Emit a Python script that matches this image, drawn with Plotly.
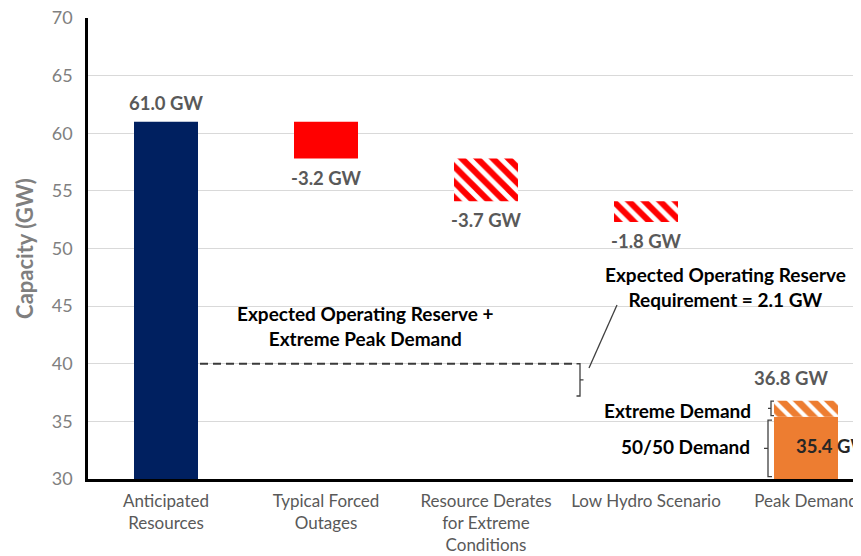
import plotly.graph_objects as go

# ---------------- data ----------------
categories = ["Anticipated<br>Resources", "Typical Forced<br>Outages",
              "Resource Derates<br>for Extreme<br>Conditions", "Low Hydro Scenario",
              "Peak Demand"]
anticipated = 61.0
derates = [-3.2, -3.7, -1.8]          # typical outages, extreme derates, low hydro
demand_5050 = 35.4
demand_extreme = 36.8
reserve_level = 40.0                  # reserve + extreme peak demand line
reserve_req = 2.1
y_ticks = [30, 35, 40, 45, 50, 55, 60, 65, 70]

# ---------------- layout constants (page pixels, body margin 8px) ----------------
OFF = 8
W, H = 861 - OFF, 556 - OFF
PL, PR, PT, PB = 88, 856, 18, 479        # plot area in page pixels
ML, MR, MT, MB = PL - OFF, W - (PR - OFF), PT - OFF, H - (PB - OFF)
PW = PR - PL
PH = PB - PT
CAT_PX = 160.0
X0 = -(166 - PL) / CAT_PX
X1 = X0 + PW / CAT_PX

def xi(px):           # page pixel -> category index coordinate
    return (px - 166) / CAT_PX

def xp(px):           # page pixel -> paper
    return (px - PL) / PW

FONT = "Lato, Calibri, Carlito, sans-serif"
NAVY = "#002060"
RED = "#ff0000"
ORANGE = "#ed7d31"
LBL = "#595959"
VAL_SIZE = 18.5
NOTE_SIZE = 19

levels = [anticipated]
for d in derates:
    levels.append(levels[-1] + d)

fig = go.Figure()
BW = 0.4

fig.add_trace(go.Bar(x=[categories[0]], y=[anticipated], base=[0], width=BW,
                     marker=dict(color=NAVY, line=dict(width=0)), showlegend=False))
fig.add_trace(go.Bar(x=[categories[1]], y=[-derates[0]], base=[levels[1]], width=BW,
                     marker=dict(color=RED, line=dict(width=0)), showlegend=False))
fig.add_trace(go.Bar(x=categories[2:4], y=[-d for d in derates[1:]], base=levels[2:4], width=BW,
                     marker=dict(color="white", line=dict(width=0),
                                 pattern=dict(shape="\\", fgcolor=RED, bgcolor="white",
                                              fgopacity=1, size=11, solidity=0.55,
                                              fillmode="overlay")),
                     showlegend=False))
fig.add_trace(go.Bar(x=[categories[4]], y=[demand_5050], base=[0], width=BW,
                     marker=dict(color=ORANGE, line=dict(width=0)), showlegend=False))
fig.add_trace(go.Bar(x=[categories[4]], y=[demand_extreme - demand_5050], base=[demand_5050],
                     width=BW,
                     marker=dict(color="white", line=dict(width=0),
                                 pattern=dict(shape="\\", fgcolor=ORANGE, bgcolor="white",
                                              fgopacity=1, size=11, solidity=0.62,
                                              fillmode="overlay")),
                     showlegend=False))

ann = []
def label(x, y, text, yshift, color=LBL, size=VAL_SIZE, xanchor="center"):
    ann.append(dict(x=x, y=y, xref="x", yref="y", text=f"<b>{text}</b>", showarrow=False,
                    yshift=yshift, xanchor=xanchor,
                    font=dict(family=FONT, size=size, color=color)))

label(0, anticipated, f"{anticipated:.1f} GW", 19)
for i, d in enumerate(derates):
    label(i + 1, levels[i + 1], f"{d:.1f} GW", -19)
label(xi(791), demand_extreme, f"{demand_extreme:.1f} GW", 23)
ann.append(dict(x=xi(794), y=demand_5050 - 2.54, xref="x", yref="y",
                text=f"<b>{demand_5050:.1f} GW</b>", showarrow=False, xanchor="left",
                font=dict(family=FONT, size=VAL_SIZE, color="#262626")))

def note(x, y, text, xanchor="center"):
    ann.append(dict(x=x, y=y, xref="x", yref="y", text=f"<b>{text}</b>", showarrow=False,
                    xanchor=xanchor, align="center",
                    font=dict(family=FONT, size=NOTE_SIZE, color="black")))

note(xi(365), 43.27, "Expected Operating Reserve +<br>Extreme Peak Demand")
note(xi(725), 46.65, f"Expected Operating Reserve<br>Requirement = {reserve_req} GW")
note(xi(753), 35.98, "Extreme Demand", xanchor="right")
note(xi(752), 32.86, "50/50 Demand", xanchor="right")

shapes = []
shapes.append(dict(type="line", xref="x", yref="y", x0=xi(200), x1=xi(577),
                   y0=reserve_level, y1=reserve_level,
                   line=dict(color="#3a3a3a", width=2, dash="8px,5px")))

def brace(px, y_top, y_bot, opens="right", w=4, color="#404040", width=1.3):
    s = 1 if opens == "right" else -1
    xv = xp(px)
    xt = xp(px + s * w)
    xm = xp(px - s * w)
    ym = (y_top + y_bot) / 2
    path = (f"M {xt},{y_top} L {xv},{y_top} L {xv},{ym} L {xm},{ym} "
            f"M {xv},{ym} L {xv},{y_bot} L {xt},{y_bot}")
    shapes.append(dict(type="path", xref="paper", yref="y", path=path,
                       line=dict(color=color, width=width)))

brace(580, reserve_level, 37.2, opens="left", w=3.5)
shapes.append(dict(type="line", xref="x", yref="y", x0=xi(589), y0=39.63, x1=xi(617), y1=45.09,
                   line=dict(color="#404040", width=1.3)))
brace(771, 36.75, 35.5, opens="right", w=3)
brace(768, 35.1, 30.2, opens="right", w=4)
shapes.append(dict(type="line", xref="paper", yref="paper", x0=xp(856.5), x1=xp(856.5),
                   y0=-(556 - PB) / PH, y1=1 + PT / PH,
                   line=dict(color="#2e5597", width=2)))

fig.update_layout(
    width=W, height=H,
    margin=dict(l=ML, r=MR, t=MT, b=MB, pad=0, autoexpand=False),
    paper_bgcolor="white", plot_bgcolor="white",
    barmode="overlay",
    annotations=ann, shapes=shapes,
    font=dict(family=FONT),
    xaxis=dict(type="category", range=[X0, X1], showgrid=False, showline=True,
               linecolor="black", linewidth=2.5, ticks="", zeroline=False, automargin=False,
               ticklabelstandoff=5, ticklabeloverflow="allow",
               tickfont=dict(family=FONT, size=17, color=LBL)),
    yaxis=dict(range=[30, 70], tickvals=y_ticks, showgrid=True, gridcolor="#d9d9d9",
               gridwidth=1, showline=True, linecolor="black", linewidth=2.5, zeroline=False,
               ticks="", ticklabelstandoff=9, automargin=False, ticklabeloverflow="allow",
               tickfont=dict(family=FONT, size=18, color="#808080"),
               title=dict(text="<b>Capacity (GW)</b>", standoff=13,
                          font=dict(family=FONT, size=22, color="#7f7f7f"))),
)

fig.write_html("out.html")
